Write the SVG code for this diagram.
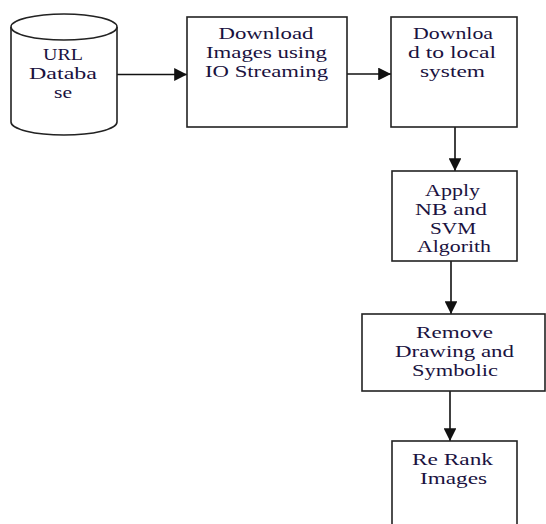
<svg xmlns="http://www.w3.org/2000/svg" width="546" height="524" viewBox="0 0 546 524">
<defs>
<style>
.shape{fill:#fff;stroke:#222;stroke-width:1.6}
.conn{stroke:#111;stroke-width:1.6;fill:none}
text{font-family:"Liberation Serif","Times New Roman",serif;font-size:16.5px;fill:#1a1240;text-anchor:middle}
</style>
<marker id="ah" viewBox="0 0 10 10" refX="10" refY="5" markerWidth="7" markerHeight="7" markerUnits="userSpaceOnUse" orient="auto">
<path d="M0,0 L10,5 L0,10 Z" fill="#111"/>
</marker>
<marker id="ahb" viewBox="0 0 10 10" refX="10" refY="5" markerWidth="8" markerHeight="8" orient="auto" markerUnits="strokeWidth">
<path d="M0,0 L10,5 L0,10 Z" fill="#111"/>
</marker>
</defs>
<rect width="546" height="524" fill="#fff"/>
<g id="connectors">
<line class="conn" x1="117" y1="74.5" x2="187" y2="74.5" marker-end="url(#ahb)"/>
<line class="conn" x1="347" y1="74" x2="391" y2="74" marker-end="url(#ahb)"/>
<line class="conn" x1="455" y1="127" x2="455" y2="171" marker-end="url(#ahb)"/>
<line class="conn" x1="451" y1="261" x2="451" y2="314" marker-end="url(#ahb)"/>
<line class="conn" x1="450" y1="391" x2="450" y2="441" marker-end="url(#ahb)"/>
</g>
<g id="url-database">
<path class="shape" d="M11,27 L11,122 A53,13 0 0 0 117,122 L117,27"/>
<ellipse class="shape" cx="64" cy="27" rx="53" ry="13"/>
<text x="63" y="60" textLength="40" lengthAdjust="spacingAndGlyphs">URL</text>
<text x="63" y="79" textLength="68" lengthAdjust="spacingAndGlyphs">Databa</text>
<text x="63" y="98" textLength="18" lengthAdjust="spacingAndGlyphs">se</text>
</g>
<g id="download-images">
<rect class="shape" x="187" y="17" width="160" height="110"/>
<text x="266" y="39" textLength="95" lengthAdjust="spacingAndGlyphs">Download</text>
<text x="266.5" y="58" textLength="121" lengthAdjust="spacingAndGlyphs">Images using</text>
<text x="266.5" y="77" textLength="123" lengthAdjust="spacingAndGlyphs">IO Streaming</text>
</g>
<g id="download-local">
<rect class="shape" x="391" y="17" width="126" height="110"/>
<text x="453" y="39" textLength="80" lengthAdjust="spacingAndGlyphs">Downloa</text>
<text x="452" y="58" textLength="88" lengthAdjust="spacingAndGlyphs">d to local</text>
<text x="452.5" y="77" textLength="65" lengthAdjust="spacingAndGlyphs">system</text>
</g>
<g id="apply-nb-svm">
<rect class="shape" x="392" y="171" width="125" height="90"/>
<text x="452.5" y="196" textLength="55" lengthAdjust="spacingAndGlyphs">Apply</text>
<text x="451" y="215" textLength="72" lengthAdjust="spacingAndGlyphs">NB and</text>
<text x="453" y="234" textLength="46" lengthAdjust="spacingAndGlyphs">SVM</text>
<text x="454" y="252" textLength="74" lengthAdjust="spacingAndGlyphs">Algorith</text>
</g>
<g id="remove-drawing">
<rect class="shape" x="362" y="314" width="183" height="77"/>
<text x="454.5" y="338" textLength="77" lengthAdjust="spacingAndGlyphs">Remove</text>
<text x="454.5" y="357" textLength="119" lengthAdjust="spacingAndGlyphs">Drawing and</text>
<text x="455" y="376" textLength="86" lengthAdjust="spacingAndGlyphs">Symbolic</text>
</g>
<g id="rerank">
<rect class="shape" x="392" y="441" width="125" height="100"/>
<text x="452.5" y="465" textLength="81" lengthAdjust="spacingAndGlyphs">Re Rank</text>
<text x="453.5" y="484" textLength="67" lengthAdjust="spacingAndGlyphs">Images</text>
</g>
</svg>
